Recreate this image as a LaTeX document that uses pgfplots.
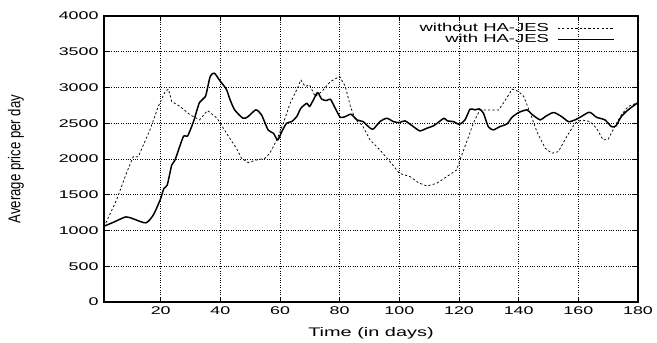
\documentclass[border=0pt]{standalone}
\usepackage{pgfplots}
\pgfplotsset{compat=1.18}
\usepackage{fontspec}
\setmainfont{Liberation Sans}
\newfontfamily\wf[FakeStretch=1.6]{Liberation Sans}
\begin{document}
\begin{tikzpicture}
\begin{axis}[
  scale only axis,
  width=534bp, height=286bp,
  xmin=1, xmax=180, ymin=0, ymax=4000,
  xtick={20,40,...,180},
  ytick={0,500,...,4000},
  grid=major,
  major grid style={black, dotted, line width=0.6pt},
  axis line style={line width=1.1pt},
  tick style={black, line width=0.8pt},
  major tick length=5bp,
  tick align=inside,
  xticklabel style={font=\wf\fontsize{11.2}{12}\selectfont, yshift=-1bp},
  yticklabel style={font=\wf\fontsize{11.2}{12}\selectfont, xshift=-2bp},
  /pgf/number format/assume math mode=true,
  /pgf/number format/1000 sep={},
  xlabel={Time (in days)},
  ylabel={\scalebox{1}[1.3]{Average price per day}},
  every axis x label/.style={at={(axis description cs:0.5,-0.108)}, anchor=center, font=\wf\fontsize{12.5}{14}\selectfont},
  every axis y label/.style={at={(axis description cs:-0.165,0.5)}, rotate=90, anchor=center, font=\fontsize{13.2}{14}\selectfont},
  legend style={draw=none, fill=none, at={(0.962,0.99)}, anchor=north east,
    font=\wf\fontsize{11.6}{12}\selectfont, row sep=-2.5pt, legend cell align=right},
  legend plot pos=right,
  legend image code/.code={\path (0bp,0bp); \draw[#1] (6bp,0bp) -- (62bp,0bp);},
]
\addplot[black, line width=0.75pt, dash pattern=on 2.2pt off 2.2pt] coordinates {
(1,1050) (5.2,1425) (8.5,1800) (10.8,2033) (12.5,2033) (16.4,2407) (19.2,2734)
(21.5,2944) (22.6,2977) (23.7,2804) (26.5,2734) (29.9,2617) (33,2547) (35.7,2678)
(38.9,2570) (42.8,2313) (45.4,2150) (47.1,2010) (49.3,1949) (52.1,1986) (54.9,2010)
(56.6,2080) (58.9,2266) (61.1,2500) (63.4,2780) (65.6,2967) (67,3107) (68.4,3014)
(69.9,3037) (71.8,2874) (74,2944) (76.9,3084) (80,3154) (81.9,3014) (83.6,2734)
(85.3,2547) (87.5,2477) (90.2,2266) (93.5,2126) (96.9,1963) (100,1800) (103.6,1753)
(106.4,1668) (109.2,1622) (112.5,1659) (115.9,1753) (119.2,1846) (120.3,1986)
(122.6,2243) (124.8,2500) (127,2687) (130.6,2687) (133.3,2687) (135.6,2827)
(137.8,2977) (140,2944) (141.7,2874) (143.9,2640) (146.1,2383) (148.9,2150)
(151.1,2080) (153.3,2103) (156.1,2313) (158.9,2500) (161.1,2547) (163.9,2523)
(166.1,2430) (168.3,2266) (170,2276) (172.2,2453) (174.4,2617) (176.7,2734) (180,2790)
};
\addlegendentry{without HA-JES}
\addplot[black, line width=1.5pt, line join=round, smooth, tension=0.4] coordinates {
(1,1060) (4,1112) (8.3,1190) (10.8,1163) (15,1107) (17.5,1215) (19.8,1425)
(21.1,1590) (22.2,1635) (23.7,1915) (24.8,1985) (27.6,2313) (29,2320) (31,2523)
(33,2790) (35,2874) (36.6,3155) (38,3200) (39.8,3098) (42,2976) (43.2,2836)
(44.8,2687) (47.6,2570) (49.3,2593) (51.9,2687) (53.8,2617) (56,2407) (57.8,2360)
(59.2,2266) (60.6,2383) (62.2,2500) (63.9,2523) (65.6,2593) (67,2710) (69,2780)
(69.9,2734) (71.2,2827) (72.6,2930) (74,2836) (75.7,2818) (76.9,2836) (78.5,2710)
(80.2,2584) (81.9,2593) (83.8,2626) (85.8,2547) (87.9,2523) (89,2477) (91.1,2416)
(93.5,2523) (95.8,2570) (98,2523) (100,2509) (101.9,2533) (104.7,2453) (106.9,2393)
(109.2,2430) (111.4,2463) (113.1,2514) (115,2570) (116.1,2533) (118.1,2523)
(120.1,2486) (122,2547) (123.7,2696) (125.4,2687) (126.8,2701) (128.2,2640)
(129.8,2453) (131.5,2407) (133.7,2453) (136.1,2491) (137.8,2584) (140,2650)
(142.8,2687) (144.4,2626) (147.2,2547) (148.9,2593) (151.7,2650) (154.4,2593)
(156.7,2523) (158.9,2547) (160.6,2584) (163.7,2654) (166.1,2584) (168.9,2547)
(171.1,2453) (172.6,2463) (174.4,2593) (176.7,2687) (180,2790)
};
\addlegendentry{with HA-JES}
\end{axis}
\path (current axis.south west) ++(-104bp,-39bp) coordinate (bbl);
\path (current axis.north east) ++(19bp,16bp) coordinate (btr);
\path (bbl) rectangle (btr);
\end{tikzpicture}
\end{document}
